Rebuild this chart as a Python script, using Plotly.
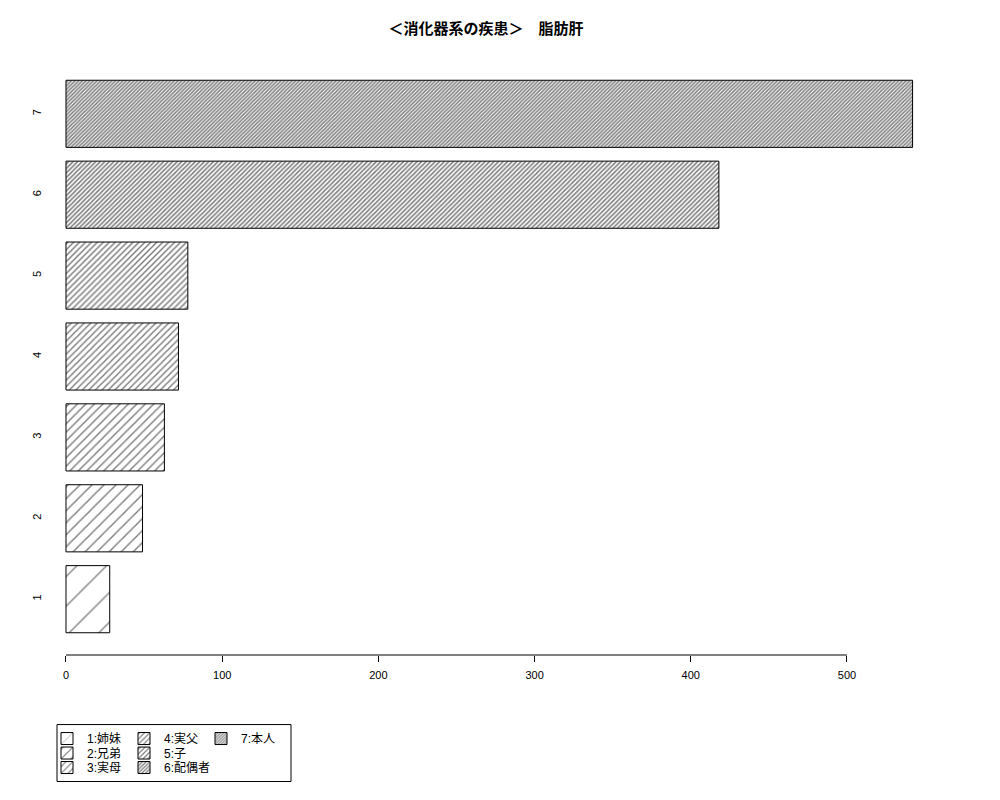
import plotly.graph_objects as go

# data
categories = ["1", "2", "3", "4", "5", "6", "7"]
counts = [28, 49, 63, 72, 78, 418, 542]
labels = ["1:姉妹", "2:兄弟", "3:実母", "4:実父", "5:子", "6:配偶者", "7:本人"]
x_ticks = [0, 100, 200, 300, 400, 500]

title = "＜消化器系の疾患＞　脂肪肝"

# hatch spacing (px) and line solidity per bar, sparse -> dense
hatch = [21, 8.5, 6, 4.6, 4.2, 3.2, 2.6]
solid = [0.065, 0.17, 0.24, 0.32, 0.36, 0.5, 0.58]

# the page body adds an 8px offset, so work in figure pixels = screen pixels - 8
OFF = 8
W, H = 992, 792
L, T = 50 - OFF, 58 - OFF
R = W - (946 - OFF)
B = H - (655.4 - OFF)
pw, ph = W - L - R, H - T - B


def px_x(p):
    return (p - OFF - L) / pw


def px_y(p):
    return (H - B - (p - OFF)) / ph


# legend rows (R fills the legend column-wise: 1,2,3 | 4,5,6 | 7)
rows = {0: "legend", 3: "legend", 6: "legend",
        1: "legend2", 4: "legend2",
        2: "legend3", 5: "legend3"}

fig = go.Figure()
for i, cat in enumerate(categories):
    fig.add_trace(go.Bar(
        y=[cat], x=[counts[i]], orientation="h", name=labels[i],
        width=0.83,
        marker=dict(color="white",
                    line=dict(color="black", width=1),
                    pattern=dict(shape="/", size=hatch[i], fgcolor="black",
                                 bgcolor="white", solidity=solid[i])),
        legend=rows[i],
    ))

# empty placeholders so the short legend rows keep room for their last label
for leg in ["legend2", "legend3"]:
    fig.add_trace(go.Bar(
        y=[categories[0]], x=[0], orientation="h", name=" ", width=0.83,
        marker=dict(color="rgba(0,0,0,0)", line=dict(width=0)),
        hoverinfo="skip", legend=leg,
    ))

leg_common = dict(orientation="h", xanchor="left", yanchor="middle",
                  x=px_x(47), entrywidth=32, entrywidthmode="pixels",
                  bgcolor="rgba(0,0,0,0)", borderwidth=0,
                  font=dict(family="Liberation Sans, Noto Sans CJK JP", size=12, color="black"),
                  itemclick=False)

fig.update_layout(
    width=W, height=H,
    margin=dict(l=L, r=R, t=T, b=B),
    paper_bgcolor="white", plot_bgcolor="white",
    barmode="overlay",
    title=dict(text="<b>" + title + "</b>", x=(486 - OFF) / W, xanchor="center",
               y=1 - (29 - OFF) / H, yanchor="middle",
               font=dict(family="Noto Sans CJK JP", size=15, color="black")),
    xaxis=dict(range=[-10.24, 563.4], tickvals=x_ticks, ticks="outside", ticklen=6,
               tickcolor="black", showline=False, showgrid=False, zeroline=False,
               ticklabelstandoff=4,
               tickfont=dict(family="Liberation Sans", size=11, color="black")),
    yaxis=dict(type="category", range=[-0.69, 6.69], showgrid=False, zeroline=False,
               showline=False, ticks="", tickangle=-90, ticklabelstandoff=6,
               tickfont=dict(family="Liberation Sans", size=11, color="black")),
    legend=dict(leg_common, y=px_y(739)),
    legend2=dict(leg_common, y=px_y(753.5)),
    legend3=dict(leg_common, y=px_y(768)),
    showlegend=True,
)

# axis line only spans the ticks, as in R
fig.add_shape(type="line", xref="x", yref="paper", x0=x_ticks[0], x1=x_ticks[-1],
              y0=0, y1=0, line=dict(color="black", width=1))
# legend frame
fig.add_shape(type="rect", xref="paper", yref="paper",
              x0=px_x(57), x1=px_x(291), y0=px_y(725), y1=px_y(782),
              line=dict(color="black", width=1), fillcolor="rgba(0,0,0,0)")

fig.write_html("out.html")
